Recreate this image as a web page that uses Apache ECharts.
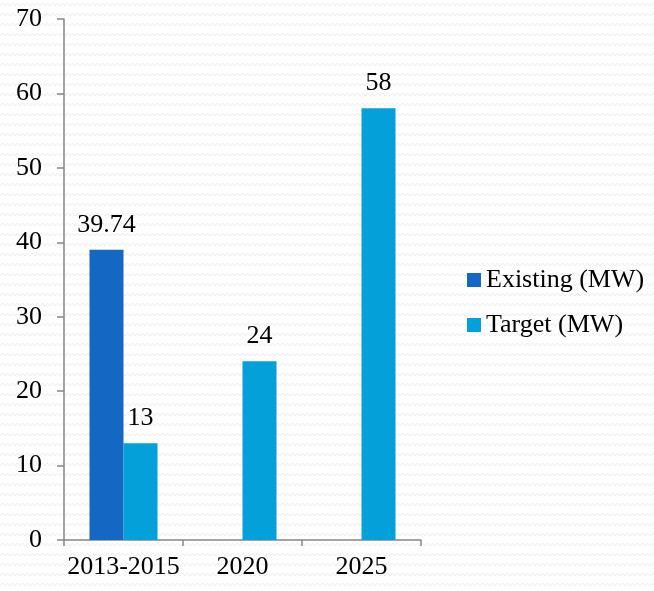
<!DOCTYPE html>
<html>
<head>
<meta charset="utf-8">
<script src="https://cdn.jsdelivr.net/npm/echarts@6/dist/echarts.min.js"></script>
<style>
  html, body { margin: 0; padding: 0; background: #ffffff; }
  #chart { width: 654px; height: 591px; }
</style>
</head>
<body>
<div id="chart"></div>
<script>
// 类别与数据
const categories = ['2013-2015', '2020', '2025'];
const existing = [39, null, null];
const existingLabels = ['39.74', '', ''];
const target = [13, 24, 58];
const yTicks = [0, 10, 20, 30, 40, 50, 60, 70];

// 背景的浅灰波纹
function makePattern() {
  const c = document.createElement('canvas');
  c.width = 10;
  c.height = 10;
  const ctx = c.getContext('2d');
  ctx.fillStyle = '#ffffff';
  ctx.fillRect(0, 0, 10, 10);
  ctx.strokeStyle = '#ececec';
  ctx.lineWidth = 1;
  ctx.beginPath();
  ctx.moveTo(0, 6);
  ctx.lineTo(2.5, 3);
  ctx.lineTo(5, 6);
  ctx.lineTo(7.5, 3);
  ctx.lineTo(10, 6);
  ctx.stroke();
  return c;
}

const font = '"Liberation Serif", "Times New Roman", serif';
const axisColor = '#868686';

let myChart = echarts.init(document.getElementById('chart'));
let option = {
  backgroundColor: { image: makePattern(), repeat: 'repeat' },
  animation: false,
  textStyle: { fontFamily: font },
  grid: { left: 64, right: 233, top: 19, bottom: 51 },
  legend: {
    orient: 'vertical',
    left: 462,
    top: 262,
    itemWidth: 14,
    itemHeight: 14,
    itemGap: 19,
    icon: 'rect',
    textStyle: { fontFamily: font, fontSize: 26, color: '#000' },
    data: ['Existing (MW)', 'Target (MW)']
  },
  xAxis: {
    type: 'category',
    data: categories,
    axisLine: { lineStyle: { color: axisColor, width: 1.5 } },
    axisTick: { show: true, length: 6, lineStyle: { color: axisColor, width: 1.5 } },
    axisLabel: { fontFamily: font, fontSize: 26, color: '#000', margin: 14, interval: 0 }
  },
  yAxis: {
    type: 'value',
    min: yTicks[0],
    max: yTicks[yTicks.length - 1],
    interval: 10,
    splitLine: { show: false },
    axisLine: { show: true, lineStyle: { color: axisColor, width: 1.5 } },
    axisTick: { show: true, length: 7, lineStyle: { color: axisColor, width: 1.5 } },
    axisLabel: { fontFamily: font, fontSize: 26, color: '#000', margin: 22 }
  },
  series: [
    {
      name: 'Existing (MW)',
      type: 'bar',
      data: existing,
      barWidth: 34,
      barGap: '0%',
      itemStyle: { color: '#1467C3' },
      label: {
        show: true,
        position: 'top',
        distance: 12,
        fontFamily: font,
        fontSize: 26,
        color: '#000',
        formatter: p => existingLabels[p.dataIndex]
      }
    },
    {
      name: 'Target (MW)',
      type: 'bar',
      data: target,
      barWidth: 34,
      barGap: '0%',
      itemStyle: { color: '#03A0D9' },
      label: {
        show: true,
        position: 'top',
        distance: 12,
        fontFamily: font,
        fontSize: 26,
        color: '#000'
      }
    }
  ]
};
myChart.setOption(option);
</script>
</body>
</html>
